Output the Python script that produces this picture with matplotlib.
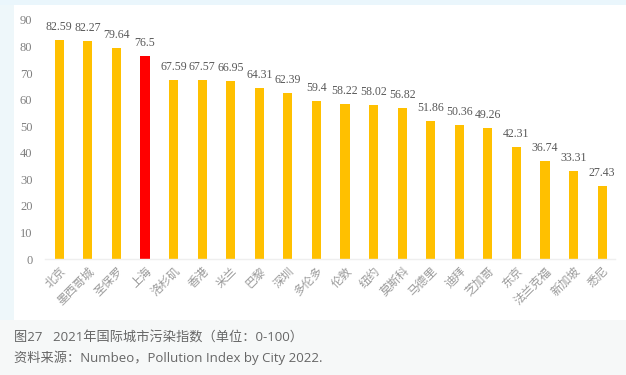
import matplotlib.pyplot as plt
import matplotlib.patches as mpatches

plt.rcParams['font.family'] = ['Liberation Serif', 'Noto Sans CJK SC']

# 2021年国际城市污染指数
ciudades = ['北京', '墨西哥城', '圣保罗', '上海', '洛杉矶', '香港', '米兰', '巴黎', '深圳', '多伦多',
            '伦敦', '纽约', '莫斯科', '马德里', '迪拜', '芝加哥', '东京', '法兰克福', '新加坡', '悉尼']
valores = [82.59, 82.27, 79.64, 76.5, 67.59, 67.57, 66.95, 64.31, 62.39, 59.4,
           58.22, 58.02, 56.82, 51.86, 50.36, 49.26, 42.31, 36.74, 33.31, 27.43]
etiquetas = ['82.59', '82.27', '79.64', '76.5', '67.59', '67.57', '66.95', '64.31', '62.39', '59.4',
             '58.22', '58.02', '56.82', '51.86', '50.36', '49.26', '42.31', '36.74', '33.31', '27.43']
destacada = '上海'
yticks = [0, 10, 20, 30, 40, 50, 60, 70, 80, 90]

fig = plt.figure(figsize=(6.26, 3.75), dpi=100)
fig.patch.set_facecolor('#f6f8f8')

# franja superior azul claro y panel blanco
fondos = [
    ((0, 1 - 5 / 375), 1, 5 / 375, '#eaf6fc'),
    ((0, 1 - 320 / 375), 14 / 626, 315 / 375, '#eef7fa'),
    ((14 / 626, 1 - 320 / 375), 1 - 14 / 626, 315 / 375, 'white'),
]
for xy, w, h, c in fondos:
    fig.add_artist(mpatches.Rectangle(xy, w, h, transform=fig.transFigure,
                                      facecolor=c, edgecolor='none', zorder=-5))

ax = fig.add_axes([45 / 626, 1 - 259 / 375, 570 / 626, 239 / 375])
ax.set_zorder(2)
ax.set_facecolor('none')

x = list(range(len(ciudades)))
colores = ['#ff0000' if c == destacada else '#ffc000' for c in ciudades]
ax.bar(x, valores, width=0.32, color=colores, zorder=2)

for xi, v, t in zip(x, valores, etiquetas):
    ax.annotate(t, (xi, v), xytext=(0, 5), textcoords='offset points',
                ha='center', va='bottom', fontsize=8.6, color='#595959')

ax.set_xlim(-0.5, 19.45)
ax.set_ylim(0, 90)
ax.set_yticks(yticks)
ax.set_yticklabels([str(t) for t in yticks], fontsize=9, color='#808080')
ax.set_xticks(x)
ax.set_xticklabels(ciudades, rotation=45, ha='right', rotation_mode='anchor',
                   fontsize=8.5, color='#9a9a9a', family=['Noto Sans CJK SC'])
ax.tick_params(axis='both', length=0)
ax.tick_params(axis='y', pad=9)
ax.tick_params(axis='x', pad=4)
for lado in ['top', 'right', 'left']:
    ax.spines[lado].set_visible(False)
ax.spines['bottom'].set_color('#efefef')
ax.spines['bottom'].set_linewidth(1)

fig.text(14 / 626, 1 - 338 / 375, '图27   2021年国际城市污染指数（单位：0-100）',
         fontsize=9.5, color='#666666', va='center', family=['Open Sans', 'Noto Sans CJK SC'])
fig.text(14 / 626, 1 - 358 / 375, '资料来源：Numbeo，Pollution Index by City 2022.',
         fontsize=9.5, color='#666666', va='center', family=['Open Sans', 'Noto Sans CJK SC'])

plt.savefig('out.png', dpi=100, facecolor=fig.get_facecolor())
